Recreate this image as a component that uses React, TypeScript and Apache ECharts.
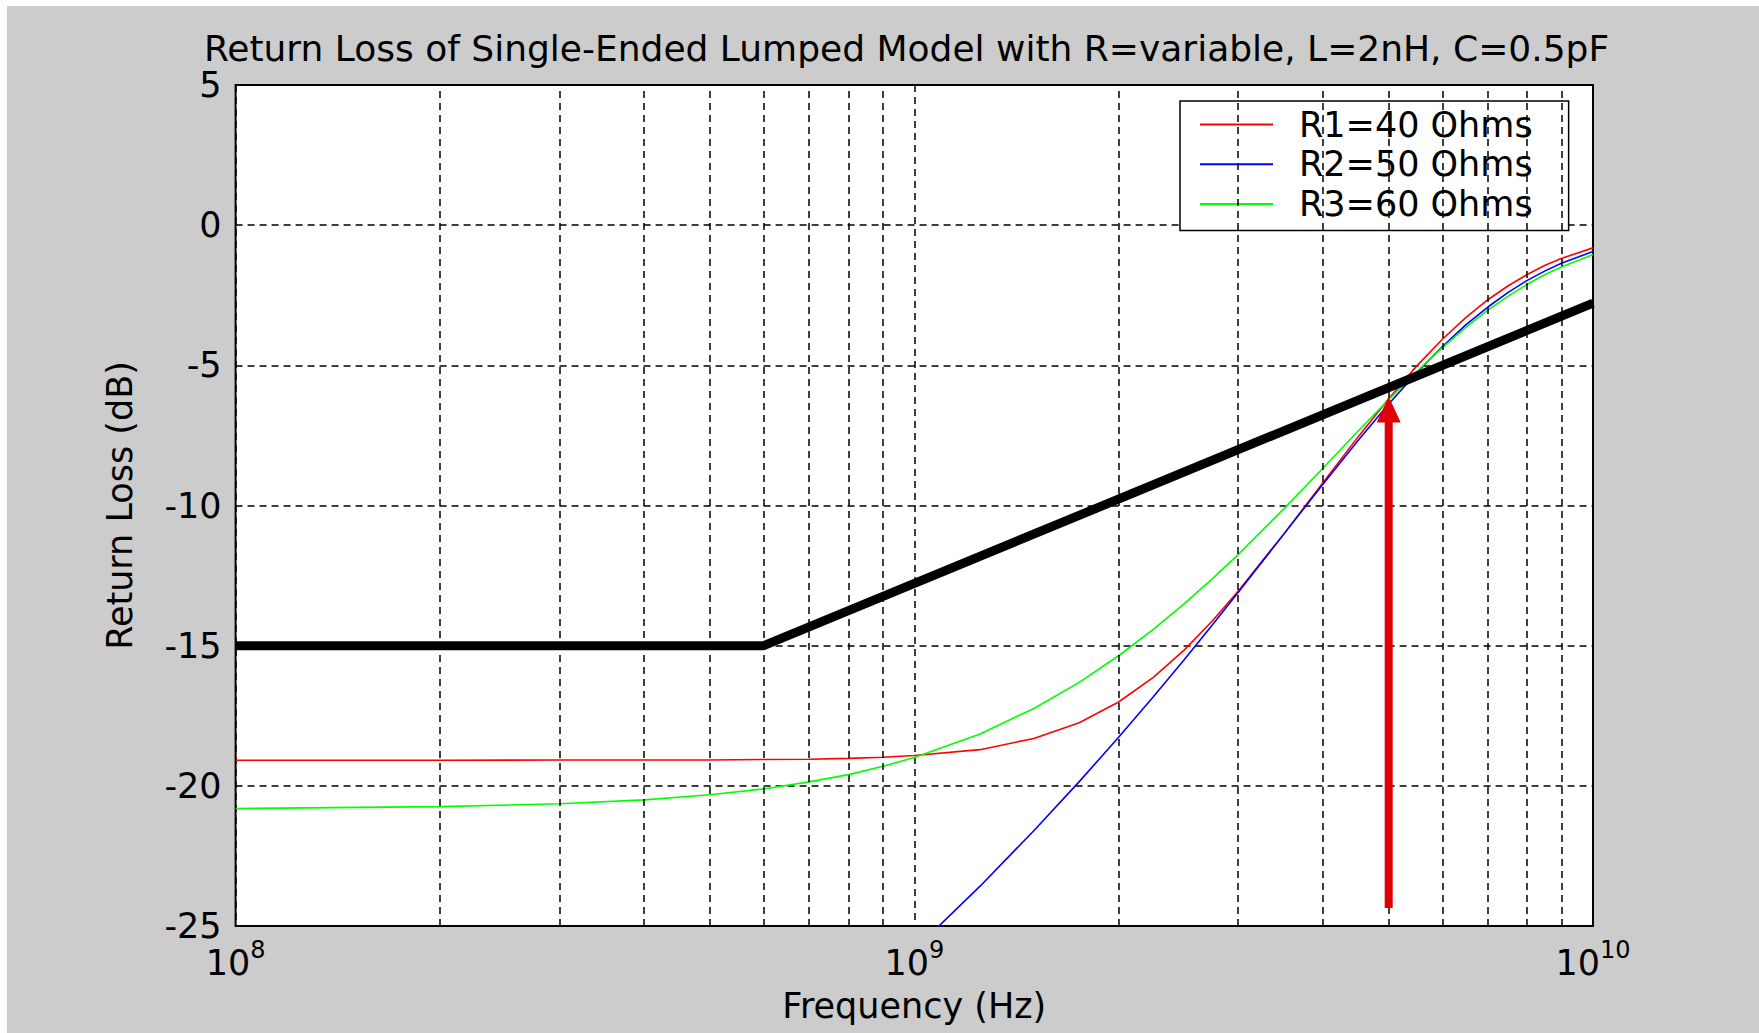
import React, { useEffect, useRef } from "react";
import * as echarts from "echarts";

const TITLE = "Return Loss of Single-Ended Lumped Model with R=variable, L=2nH, C=0.5pF";
const X_NAME = "Frequency (Hz)";
const Y_NAME = "Return Loss (dB)";

// Frequencies (Hz)
const FREQ = [
  1e8, 2e8, 3e8, 4e8, 5e8, 6e8, 7e8, 8e8, 9e8, 1e9, 1.25e9, 1.5e9, 1.75e9, 2e9, 2.25e9,
  2.5e9, 2.75e9, 3e9, 3.5e9, 4e9, 4.5e9, 5e9, 5.5e9, 6e9, 6.5e9, 7e9, 7.5e9, 8e9, 8.5e9,
  9e9, 1e10,
];
// Return loss (dB)
const R1_40 = [
  -19.09, -19.09, -19.08, -19.08, -19.08, -19.06, -19.05, -19.02, -18.98, -18.92, -18.71, -18.31,
  -17.75, -17.01, -16.13, -15.15, -14.11, -13.06, -11.03, -9.19, -7.57, -6.19, -5.02, -4.07,
  -3.29, -2.66, -2.16, -1.76, -1.43, -1.18, -0.81,
];
const R2_50 = [
  -46.53, -40.48, -36.93, -34.38, -32.37, -30.71, -29.28, -28.02, -26.88, -25.85, -23.58, -21.6,
  -19.85, -18.27, -16.82, -15.49, -14.25, -13.1, -11.03, -9.24, -7.7, -6.38, -5.26, -4.33,
  -3.55, -2.92, -2.4, -1.97, -1.63, -1.35, -0.94,
];
const R3_60 = [
  -20.81, -20.74, -20.64, -20.5, -20.32, -20.11, -19.86, -19.6, -19.3, -18.99, -18.15, -17.24,
  -16.31, -15.36, -14.42, -13.5, -12.61, -11.75, -10.13, -8.67, -7.36, -6.22, -5.22, -4.37,
  -3.64, -3.03, -2.53, -2.11, -1.76, -1.48, -1.05,
];
const SERIES_NAMES = ["R1=40 Ohms", "R2=50 Ohms", "R3=60 Ohms"];
const SERIES_COLORS = ["#ff0000", "#0000ff", "#00ff00"];

// Spec mask (thick black line)
const MASK_FREQ = [1e8, 6e8, 1e10];
const MASK_DB = [-15, -15, -2.78];

// Red arrow marking the crossing
const ARROW_FREQ = 5e9;
const ARROW_FROM_DB = -24.36;
const ARROW_TO_DB = -6.11;

// Axis ranges and grid positions
const X_MIN = 1e8;
const X_MAX = 1e10;
const Y_MIN = -25;
const Y_MAX = 5;
const Y_STEP = 5;
const X_MINOR = [2e8, 3e8, 4e8, 5e8, 6e8, 7e8, 8e8, 9e8, 2e9, 3e9, 4e9, 5e9, 6e9, 7e9, 8e9, 9e9];

const FONT = "DejaVu Sans";
const DASH = [7, 5];

export default function App() {
  const ref = useRef<HTMLDivElement>(null);

  useEffect(() => {
    document.body.style.margin = "0";
    const chart = echarts.init(ref.current!, null, { renderer: "svg" });

    const pairs = (xs: number[], ys: number[]) => xs.map((x, i) => [x, ys[i]]);
    const curves = [R1_40, R2_50, R3_60];

    const option: any = {
      animation: false,
      backgroundColor: "#cccccc",
      textStyle: { fontFamily: FONT, color: "#000" },
      grid: {
        left: 228.6,
        right: 166,
        top: 79,
        bottom: 107,
        show: true,
        backgroundColor: "#ffffff",
        borderColor: "#000000",
        borderWidth: 2,
      },
      graphic: [
        {
          type: "text",
          x: 899.5,
          y: 42,
          style: {
            text: TITLE,
            fontFamily: FONT,
            fontSize: 36,
            fill: "#000",
            textAlign: "center",
            textVerticalAlign: "middle",
          },
        },
      ],
      legend: {
        orient: "vertical",
        left: 1173,
        top: 95,
        backgroundColor: "#ffffff",
        borderColor: "#000000",
        borderWidth: 1.5,
        borderRadius: 0,
        padding: [6, 36, 9, 20],
        icon: "rect",
        itemWidth: 73,
        itemHeight: 2,
        itemGap: 4.7,
        textStyle: { fontFamily: FONT, fontSize: 35, lineHeight: 30, color: "#000", padding: [0, 0, 0, 21] },
        data: SERIES_NAMES,
      },
      xAxis: {
        type: "log",
        logBase: 10,
        min: X_MIN,
        max: X_MAX,
        axisLine: { show: false },
        axisTick: { show: false },
        splitLine: { show: true, lineStyle: { color: "#000", type: DASH, width: 1.5 } },
        axisLabel: {
          margin: 11.5,
          color: "#000",
          formatter: (v: number) => "{b|10}{s|" + Math.round(Math.log10(v)) + "}",
          rich: {
            b: { fontFamily: FONT, fontSize: 35, lineHeight: 50, color: "#000" },
            s: { fontFamily: FONT, fontSize: 24, lineHeight: 20, verticalAlign: "top", color: "#000" },
          },
        },
        name: X_NAME,
        nameLocation: "middle",
        nameGap: 62,
        nameTextStyle: { fontFamily: FONT, fontSize: 35, color: "#000" },
      },
      yAxis: {
        type: "value",
        min: Y_MIN,
        max: Y_MAX,
        interval: Y_STEP,
        axisLine: { show: false },
        axisTick: { show: false },
        splitLine: { show: true, lineStyle: { color: "#000", type: DASH, width: 1.5 } },
        axisLabel: { margin: 14, fontFamily: FONT, fontSize: 35, color: "#000" },
        name: Y_NAME,
        nameLocation: "middle",
        nameRotate: 90,
        nameGap: 98,
        nameTextStyle: { fontFamily: FONT, fontSize: 35, color: "#000" },
      },
      series: [
        {
          name: "minor-grid",
          type: "line",
          data: [],
          silent: true,
          z: 1,
          markLine: {
            silent: true,
            symbol: ["none", "none"],
            label: { show: false },
            lineStyle: { color: "#000", type: DASH, width: 1.5 },
            data: X_MINOR.map((f) => ({ xAxis: f })),
          },
        },
        ...curves.map((ys, i) => ({
          name: SERIES_NAMES[i],
          type: "line",
          data: pairs(FREQ, ys),
          showSymbol: false,
          symbol: "none",
          smooth: false,
          clip: true,
          z: 3,
          color: SERIES_COLORS[i],
          lineStyle: { color: SERIES_COLORS[i], width: 1.6 },
        })),
        {
          name: "mask",
          type: "line",
          data: pairs(MASK_FREQ, MASK_DB),
          showSymbol: false,
          symbol: "none",
          z: 4,
          lineStyle: { color: "#000", width: 9 },
        },
        {
          name: "arrow",
          type: "line",
          data: [
            [ARROW_FREQ, ARROW_FROM_DB],
            [ARROW_FREQ, ARROW_TO_DB - 0.8],
          ],
          showSymbol: false,
          symbol: "none",
          z: 5,
          lineStyle: { color: "#e00000", width: 8 },
          markPoint: {
            silent: true,
            symbol: "triangle",
            symbolSize: [24, 26],
            symbolOffset: [0, 13],
            itemStyle: { color: "#e00000" },
            label: { show: false },
            data: [{ coord: [ARROW_FREQ, ARROW_TO_DB] }],
          },
        },
      ],
    };

    chart.setOption(option);
    return () => chart.dispose();
  }, []);

  return (
    <div style={{ width: 1759, height: 1033, background: "#ffffff", position: "relative" }}>
      <div
        ref={ref}
        style={{ position: "absolute", left: 7, top: 6, width: 1752, height: 1027, background: "#cccccc" }}
      />
    </div>
  );
}
